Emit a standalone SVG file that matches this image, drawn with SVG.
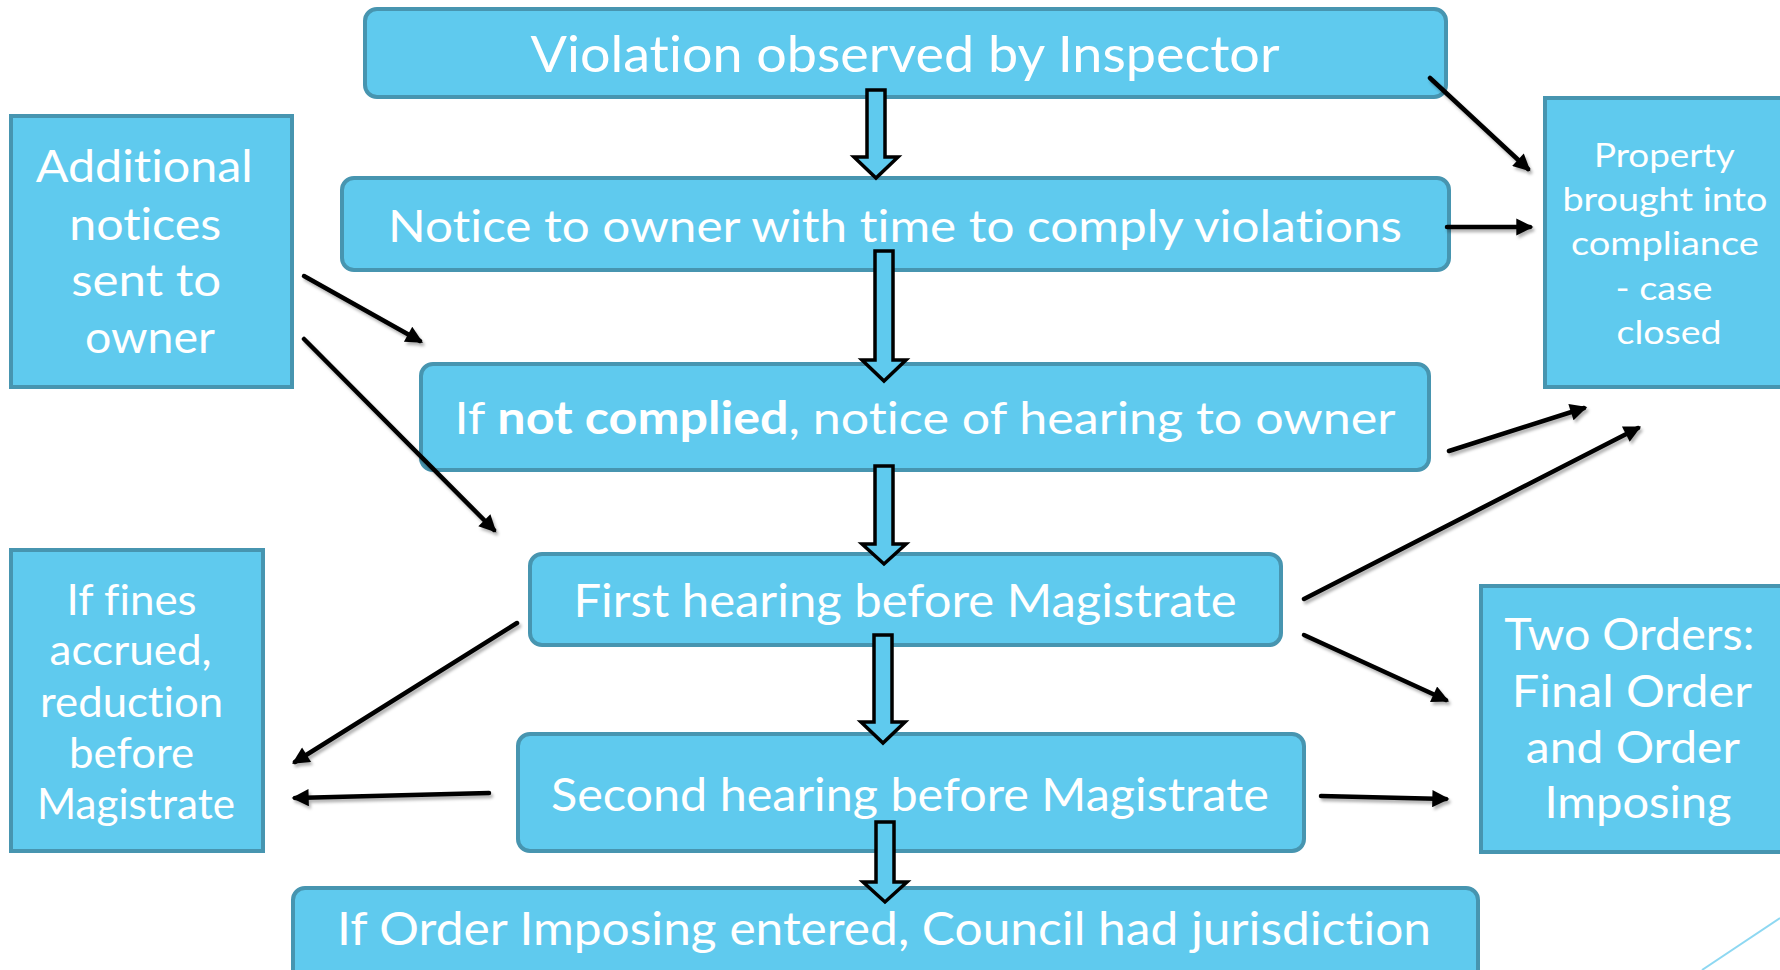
<svg xmlns="http://www.w3.org/2000/svg" width="1780" height="970" viewBox="0 0 1780 970">
  <defs>
    <style>
      .box { fill: #5FCAEE; stroke: #4795B0; stroke-width: 4; }
      .t { fill: #FFFFFF; font-family: Lato, "Open Sans", "Liberation Sans", sans-serif; text-anchor: middle; font-variant-ligatures: none; font-feature-settings: "liga" 0, "dlig" 0; }
      .blk { fill: #5FCAEE; stroke: #000000; stroke-width: 3.5; stroke-linejoin: miter; }
      .ln { fill: none; stroke: #000000; stroke-width: 4.5; stroke-linecap: round; marker-end: url(#ah); filter: url(#sh); }
    </style>
    <marker id="ah" viewBox="0 0 10 10" refX="8" refY="5" markerWidth="4.2" markerHeight="3.8" orient="auto" markerUnits="strokeWidth">
      <path d="M0,0 L10,5 L0,10 Z" fill="#000000"/>
    </marker>
    <filter id="sh" filterUnits="userSpaceOnUse" x="0" y="0" width="1780" height="970">
      <feDropShadow dx="2" dy="3" stdDeviation="1.5" flood-color="#000000" flood-opacity="0.3"/>
    </filter>
  </defs>

  <rect width="1780" height="970" fill="#FFFFFF"/>
  <line x1="1702" y1="970" x2="1780" y2="918" stroke="#8ED8F2" stroke-width="2"/>

  <g id="node-violation">
    <rect class="box" x="365" y="9" width="1081" height="88" rx="12"/>
    <text class="t" x="905" y="72" font-size="51" textLength="749" lengthAdjust="spacingAndGlyphs">Violation observed by Inspector</text>
  </g>
  <g id="node-notice">
    <rect class="box" x="342" y="178" width="1107" height="92" rx="12"/>
    <text class="t" x="895" y="242" font-size="45" textLength="1014" lengthAdjust="spacingAndGlyphs">Notice to owner with time to comply violations</text>
  </g>
  <g id="node-hearing-notice">
    <rect class="box" x="421" y="364" width="1008" height="106" rx="12"/>
    <text class="t" x="925" y="434" font-size="45" textLength="941" lengthAdjust="spacingAndGlyphs">If <tspan font-weight="bold">not complied</tspan>, notice of hearing to owner</text>
  </g>
  <g id="node-first-hearing">
    <rect class="box" x="530" y="554" width="751" height="91" rx="12"/>
    <text class="t" x="905" y="617" font-size="46" textLength="663" lengthAdjust="spacingAndGlyphs">First hearing before Magistrate</text>
  </g>
  <g id="node-second-hearing">
    <rect class="box" x="518" y="734" width="786" height="117" rx="12"/>
    <text class="t" x="910" y="811" font-size="46" textLength="718" lengthAdjust="spacingAndGlyphs">Second hearing before Magistrate</text>
  </g>
  <g id="node-order-imposing">
    <rect class="box" x="293" y="888" width="1185" height="100" rx="12"/>
    <text class="t" x="884" y="945" font-size="46" textLength="1094" lengthAdjust="spacingAndGlyphs">If Order Imposing entered, Council had jurisdiction</text>
  </g>

  <g id="node-additional-notices">
    <rect class="box" x="11" y="116" width="281" height="271"/>
    <text class="t" font-size="45" lengthAdjust="spacingAndGlyphs">
      <tspan x="150" y="182" textLength="217" lengthAdjust="spacingAndGlyphs">Additional</tspan>
      <tspan x="151" y="240" textLength="152" lengthAdjust="spacingAndGlyphs">notices</tspan>
      <tspan x="152" y="296" textLength="150" lengthAdjust="spacingAndGlyphs">sent to</tspan>
      <tspan x="150" y="353" textLength="130" lengthAdjust="spacingAndGlyphs">owner</tspan>
    </text>
  </g>
  <g id="node-fines">
    <rect class="box" x="11" y="550" width="252" height="301"/>
    <text class="t" font-size="42">
      <tspan x="137" y="615" textLength="130" lengthAdjust="spacingAndGlyphs">If fines</tspan>
      <tspan x="136" y="665" textLength="162" lengthAdjust="spacingAndGlyphs">accrued,</tspan>
      <tspan x="137" y="717" textLength="183" lengthAdjust="spacingAndGlyphs">reduction</tspan>
      <tspan x="137" y="768" textLength="125" lengthAdjust="spacingAndGlyphs">before</tspan>
      <tspan x="136" y="819" textLength="198" lengthAdjust="spacingAndGlyphs">Magistrate</tspan>
    </text>
  </g>
  <g id="node-compliance">
    <rect class="box" x="1545" y="98" width="250" height="289"/>
    <text class="t" font-size="32">
      <tspan x="1668" y="167" textLength="140" lengthAdjust="spacingAndGlyphs">Property</tspan>
      <tspan x="1669" y="211" textLength="205" lengthAdjust="spacingAndGlyphs">brought into</tspan>
      <tspan x="1669" y="255" textLength="188" lengthAdjust="spacingAndGlyphs">compliance</tspan>
      <tspan x="1668" y="300" textLength="97" lengthAdjust="spacingAndGlyphs">- case</tspan>
      <tspan x="1669" y="344" textLength="105" lengthAdjust="spacingAndGlyphs">closed</tspan>
    </text>
  </g>
  <g id="node-two-orders">
    <rect class="box" x="1481" y="586" width="310" height="266"/>
    <text class="t" font-size="44">
      <tspan x="1635" y="650" textLength="250" lengthAdjust="spacingAndGlyphs">Two Orders:</tspan>
      <tspan x="1637" y="707" textLength="239" lengthAdjust="spacingAndGlyphs">Final Order</tspan>
      <tspan x="1638" y="763" textLength="213" lengthAdjust="spacingAndGlyphs">and Order</tspan>
      <tspan x="1638" y="818" textLength="187" lengthAdjust="spacingAndGlyphs">Imposing</tspan>
    </text>
  </g>

  <g id="connectors">
    <path class="blk" d="M867,90 H885 V157 H898 L876,178 L854,157 H867 Z"/>
    <path class="blk" d="M875,251 H893 V360 H906 L884,381 L862,360 H875 Z"/>
    <path class="blk" d="M875,466 H893 V544 H906 L884,564 L862,544 H875 Z"/>
    <path class="blk" d="M874,635 H892 V722 H905 L883,743 L861,722 H874 Z"/>
    <path class="blk" d="M876,822 H894 V882 H907 L885,902 L863,882 H876 Z"/>

    <line class="ln" x1="1430" y1="78" x2="1528" y2="169"/>
    <line class="ln" x1="1447" y1="227" x2="1530" y2="227"/>
    <line class="ln" x1="1449" y1="451" x2="1584" y2="408"/>
    <line class="ln" x1="1304" y1="599" x2="1638" y2="428"/>
    <line class="ln" x1="1304" y1="635" x2="1446" y2="700"/>
    <line class="ln" x1="1321" y1="796" x2="1446" y2="799"/>
    <line class="ln" x1="304" y1="276" x2="420" y2="341"/>
    <line class="ln" x1="304" y1="339" x2="494" y2="530"/>
    <line class="ln" x1="517" y1="623" x2="295" y2="762"/>
    <line class="ln" x1="489" y1="793" x2="295" y2="798"/>
  </g>
</svg>
